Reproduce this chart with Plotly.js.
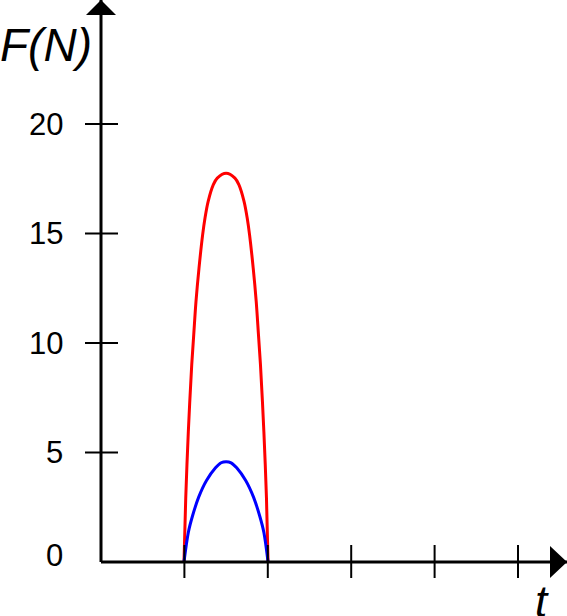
<!DOCTYPE html>
<html>
<head>
<meta charset="utf-8">
<script src="https://cdn.plot.ly/plotly-3.0.1.min.js"></script>
<style>html,body{margin:0;padding:0;background:#fff;}#chart{width:567px;height:616px;}</style>
</head>
<body>
<div id="chart"></div>
<script>
// ---- data ----
var redT  = [0.995, 1.016, 1.047, 1.088, 1.112, 1.139, 1.175, 1.219, 1.247, 1.285, 1.347, 1.394, 1.5, 1.606, 1.653, 1.715, 1.753, 1.781, 1.825, 1.861, 1.888, 1.912, 1.953, 1.984, 2.003];
var redF  = [0, 2.91, 5.95, 9.01, 10.38, 11.90, 13.42, 14.95, 15.71, 16.47, 17.23, 17.53, 17.75, 17.53, 17.23, 16.47, 15.71, 14.95, 13.42, 11.90, 10.38, 9.01, 5.95, 2.91, 0];
var blueT = [0.995, 1.047, 1.097, 1.17, 1.265, 1.373, 1.44, 1.5, 1.56, 1.627, 1.735, 1.83, 1.903, 1.953, 2.003];
var blueF = [0, 1.35, 2.10, 2.95, 3.72, 4.30, 4.53, 4.58, 4.53, 4.30, 3.72, 2.95, 2.10, 1.35, 0];
var yTickVals = [0, 5, 10, 15, 20];
var yTickText = ['0', '5', '10', '15', '20'];
var xTickVals = [1, 2, 3, 4, 5];
var yTitle = 'F(N)';
var xTitle = 't';

// ---- layout ----
var W = 567, H = 616, ML = 101, MB = 54;
var font = 'Liberation Sans, Arial, sans-serif';

var shapes = [];
// axis lines
shapes.push({type:'line', xref:'paper', yref:'paper', x0:0, x1:0, y0:0, y1:1, line:{color:'black', width:3}});
shapes.push({type:'line', xref:'paper', yref:'paper', x0:0, x1:1, y0:0, y1:0, line:{color:'black', width:3}});
// y tick marks crossing the axis
yTickVals.forEach(function(v){
  if (v === 0) return;
  shapes.push({type:'line', xref:'paper', yref:'y', xsizemode:'pixel', xanchor:0, x0:-16, x1:17, y0:v, y1:v, line:{color:'black', width:2}});
});
// x tick marks crossing the axis
xTickVals.forEach(function(v){
  shapes.push({type:'line', xref:'x', yref:'paper', ysizemode:'pixel', yanchor:0, y0:-16, y1:17, x0:v, x1:v, line:{color:'black', width:2}});
});
// arrow heads
shapes.push({type:'path', xref:'paper', yref:'paper', xsizemode:'pixel', ysizemode:'pixel', xanchor:0, yanchor:1,
  path:'M -15,-15 L 15,-15 L 0,0 Z', fillcolor:'black', line:{color:'black', width:0}});
shapes.push({type:'path', xref:'paper', yref:'paper', xsizemode:'pixel', ysizemode:'pixel', xanchor:1, yanchor:0,
  path:'M -17,-16 L -17,16 L 0,0 Z', fillcolor:'black', line:{color:'black', width:0}});

var annotations = [];
yTickVals.forEach(function(v, i){
  annotations.push({xref:'paper', yref:'y', x:0, y:v, xanchor:'right', yanchor:'middle', xshift:-36, yshift:(v === 0 ? 7 : 0),
    text:yTickText[i], showarrow:false, font:{family:font, size:31, color:'black'}});
});
annotations.push({xref:'paper', yref:'paper', x:0, y:1, xanchor:'left', yanchor:'top', xshift:-ML - 2, yshift:-17,
  text:'<i>' + yTitle + '</i>', showarrow:false, font:{family:font, size:46, color:'black'}});
annotations.push({xref:'paper', yref:'paper', x:1, y:0, xanchor:'left', yanchor:'top', xshift:-34, yshift:-13,
  text:'<i>' + xTitle + '</i>', showarrow:false, font:{family:font, size:44, color:'black'}});

var traces = [
  {x: redT, y: redF, type:'scatter', mode:'lines', line:{color:'#ff0000', width:3, shape:'spline', smoothing:0.9}, hoverinfo:'skip'},
  {x: blueT, y: blueF, type:'scatter', mode:'lines', line:{color:'#0000ff', width:3, shape:'spline', smoothing:0.9}, hoverinfo:'skip'}
];

var layout = {
  width: W, height: H,
  margin: {l: ML, r: 0, t: 0, b: MB, pad: 0},
  paper_bgcolor: '#ffffff', plot_bgcolor: '#ffffff',
  showlegend: false,
  xaxis: {range: [0, (W - ML) / 83.4], showgrid:false, zeroline:false, showline:false, showticklabels:false, ticks:'', fixedrange:true},
  yaxis: {range: [0, (H - MB) / 21.9], showgrid:false, zeroline:false, showline:false, showticklabels:false, ticks:'', fixedrange:true},
  shapes: shapes,
  annotations: annotations
};

Plotly.newPlot('chart', traces, layout, {displayModeBar:false, staticPlot:true});
</script>
</body>
</html>
